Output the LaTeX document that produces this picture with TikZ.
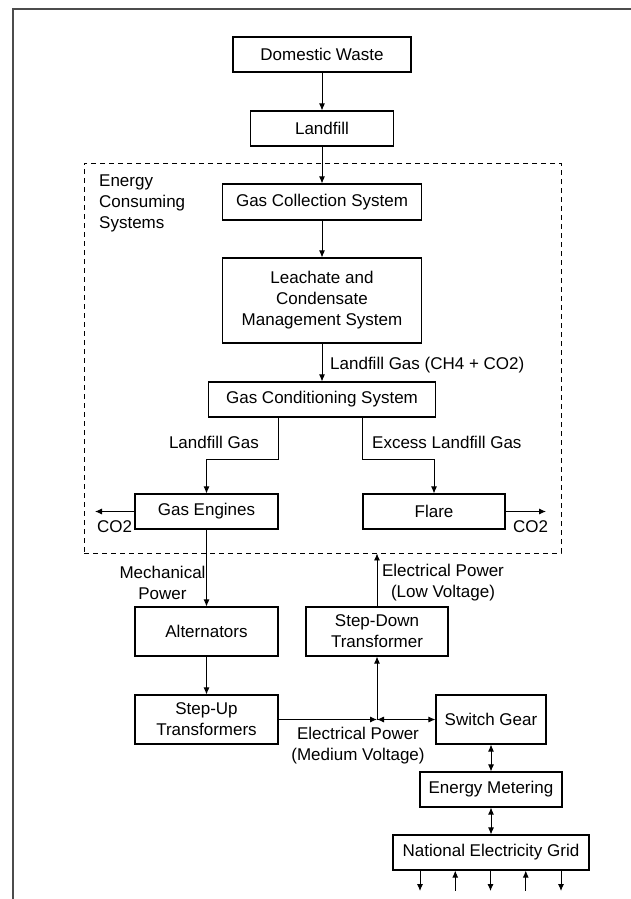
\documentclass[tikz,border=0pt]{standalone}
\usepackage{fontspec}
\setmainfont{Liberation Sans}
\usepackage{tikz}
\usetikzlibrary{arrows.meta, positioning, calc}
\tikzstyle{block} = [rectangle, draw=black, line width=1.1pt, text centered, align=center, minimum height=35pt, inner sep=2pt]
\tikzstyle{flowtext} = [align=center, inner sep=0pt]
\tikzstyle{arrow} = [line width=0.9pt, -{Latex[length=7pt,width=6pt]}]
\tikzstyle{backarrow} = [line width=0.9pt, {Latex[length=7pt,width=6pt]}-]
\tikzstyle{dblarrow} = [line width=0.9pt, {Latex[length=7pt,width=6pt]}-{Latex[length=7pt,width=6pt]}]

\begin{document}
\begin{tikzpicture}[x=1pt, y=-1pt, font=\fontsize{17}{21}\selectfont]
    \useasboundingbox (0,0) rectangle (631,899);
    \draw[line width=1.3pt, draw=black!70] (13,899) |- (631,9);

    \node[draw, dash pattern=on 5pt off 4pt, line width=0.9pt, minimum width=477pt, minimum height=390pt, inner sep=0pt] (ecs-box) at (322.5,358) {};
    \node[flowtext, anchor=west, align=left] (ecs-text) at (99,203) {Energy\\Consuming\\Systems};

    \node[block, minimum width=178pt] (dom-waste) at (322,54.5) {Domestic Waste};
    \node[block, minimum width=143pt] (landfill) at (322,128.5) {Landfill};
    \node[block, minimum width=199pt, minimum height=36pt] (gas-coll) at (322,202) {Gas Collection System};
    \node[block, minimum width=199pt, minimum height=85pt] (leachate) at (322,300.5) {Leachate and\\Condensate\\Management System};
    \node[block, minimum width=227pt] (gas-cond) at (322,399.5) {Gas Conditioning System};
    \node[block, minimum width=143pt] (gas-eng) at (206.5,511.5) {Gas Engines};
    \node[block, minimum width=142pt] (flare) at (434,511.5) {Flare};
    \node[block, minimum width=143pt, minimum height=49pt] (alternators) at (206.5,631.5) {Alternators};
    \node[block, minimum width=142pt, minimum height=49pt] (step-down) at (377,631.5) {Step-Down\\Transformer};
    \node[block, minimum width=143pt, minimum height=49pt] (step-up) at (206.5,719.5) {Step-Up\\Transformers};
    \node[block, minimum width=110pt, minimum height=49pt] (switch-gear) at (491,719.5) {Switch Gear};
    \node[block, minimum width=142pt] (energy-met) at (491,789.5) {Energy Metering};
    \node[block, minimum width=196pt] (grid) at (491,852.5) {National Electricity Grid};

    \node[flowtext, anchor=west] (lfg-main) at (330,365) {Landfill Gas (CH4 + CO2)};
    \node[flowtext, anchor=east] (lfg-left) at (259,442) {Landfill Gas};
    \node[flowtext, anchor=west] (lfg-excess) at (372,442) {Excess Landfill Gas};
    \node[flowtext] (co2-left) at (114.5,527) {CO2};
    \node[flowtext] (co2-right) at (530.5,527) {CO2};
    \node[flowtext] (mech-power) at (162.5,583) {Mechanical\\Power};
    \node[flowtext] (low-volt) at (443,583) {Electrical Power\\(Low Voltage)};
    \node[flowtext] (med-volt) at (358,745.5) {Electrical Power\\(Medium Voltage)};

    \draw[arrow] (dom-waste) -- (landfill);
    \draw[arrow] (landfill) -- (gas-coll);
    \draw[arrow] (gas-coll) -- (leachate);
    \draw[arrow] (leachate) -- (gas-cond);
    \draw[arrow] (gas-cond.south -| gas-eng.east) -- ++(0,42) -| (gas-eng.north);
    \draw[arrow] (gas-cond.south -| flare.west) -- ++(0,42) -| (flare.north);

    \coordinate (co2-l-end) at (95,511.5);
    \coordinate (co2-r-end) at (546,511.5);
    \draw[arrow] (gas-eng.west) -- (co2-l-end);
    \draw[arrow] (flare.east) -- (co2-r-end);

    \draw[arrow] (gas-eng) -- (alternators);
    \draw[arrow] (alternators) -- (step-up);
    \draw[arrow] (step-down) -- (step-down |- ecs-box.south);

    \coordinate (junction) at (step-down.south |- step-up.east);
    \draw[arrow] (step-up) -- (junction);
    \draw[arrow] (junction) -- (step-down);
    \draw[dblarrow] (junction) -- (switch-gear);
    \draw[dblarrow] (switch-gear) -- (energy-met);
    \draw[dblarrow] (energy-met) -- (grid);

    \foreach \i/\tip in {0/arrow,1/backarrow,2/arrow,3/backarrow,4/arrow} {
        \coordinate (grid-\i) at ({420+35.25*\i},891);
        \draw[\tip] (grid.south -| grid-\i) -- (grid-\i);
    }
\end{tikzpicture}
\end{document}
